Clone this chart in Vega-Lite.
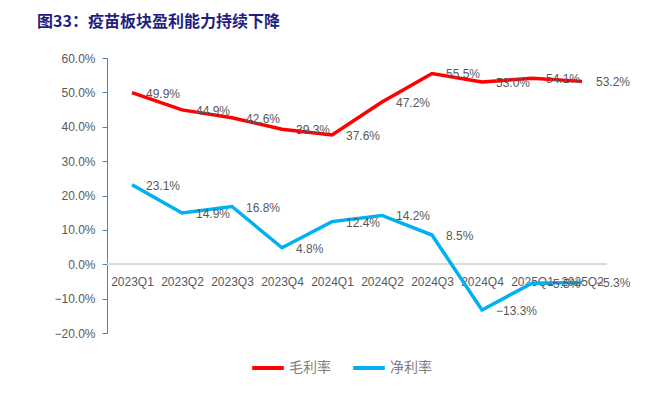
{
  "$schema": "https://vega.github.io/schema/vega-lite/v6.json",
  "autosize": "none",
  "width": 500,
  "height": 275,
  "padding": {"left": 107, "top": 58, "right": 44, "bottom": 69},
  "background": "white",
  "title": {
    "text": "图33：疫苗板块盈利能力持续下降",
    "anchor": "start",
    "frame": "group",
    "dx": -70,
    "offset": 22,
    "font": "Noto Sans CJK SC",
    "fontSize": 16,
    "fontWeight": "bold",
    "color": "#1F1F80"
  },
  "config": {
    "view": {"stroke": null},
    "font": "Liberation Sans"
  },
  "data": {
    "values": [
      {"q": "2023Q1", "series": "毛利率", "value": 0.499},
      {"q": "2023Q2", "series": "毛利率", "value": 0.449},
      {"q": "2023Q3", "series": "毛利率", "value": 0.426},
      {"q": "2023Q4", "series": "毛利率", "value": 0.393},
      {"q": "2024Q1", "series": "毛利率", "value": 0.376},
      {"q": "2024Q2", "series": "毛利率", "value": 0.472},
      {"q": "2024Q3", "series": "毛利率", "value": 0.555},
      {"q": "2024Q4", "series": "毛利率", "value": 0.530},
      {"q": "2025Q1", "series": "毛利率", "value": 0.541},
      {"q": "2025Q2", "series": "毛利率", "value": 0.532},
      {"q": "2023Q1", "series": "净利率", "value": 0.231},
      {"q": "2023Q2", "series": "净利率", "value": 0.149},
      {"q": "2023Q3", "series": "净利率", "value": 0.168},
      {"q": "2023Q4", "series": "净利率", "value": 0.048},
      {"q": "2024Q1", "series": "净利率", "value": 0.124},
      {"q": "2024Q2", "series": "净利率", "value": 0.142},
      {"q": "2024Q3", "series": "净利率", "value": 0.085},
      {"q": "2024Q4", "series": "净利率", "value": -0.133},
      {"q": "2025Q1", "series": "净利率", "value": -0.055},
      {"q": "2025Q2", "series": "净利率", "value": -0.053}
    ]
  },
  "encoding": {
    "x": {
      "field": "q",
      "type": "ordinal",
      "sort": null,
      "title": null,
      "axis": {
        "labelAngle": 0,
        "offset": -69,
        "domain": false,
        "ticks": false,
        "labelColor": "#595959",
        "labelFontSize": 12,
        "labelPadding": 12,
        "labelFont": "Liberation Sans"
      }
    },
    "y": {
      "field": "value",
      "type": "quantitative",
      "title": null,
      "scale": {"domain": [-0.2, 0.6], "nice": false, "zero": false},
      "axis": {
        "values": [-0.2, -0.1, 0, 0.1, 0.2, 0.3, 0.4, 0.5, 0.6],
        "format": ".1%",
        "grid": false,
        "domainColor": "#4F81BD",
        "tickColor": "#4F81BD",
        "tickSize": 5,
        "labelColor": "#595959",
        "labelFontSize": 12,
        "labelPadding": 7,
        "labelFont": "Liberation Sans"
      }
    }
  },
  "layer": [
    {
      "mark": {"type": "rule", "color": "#D9D9D9", "strokeWidth": 1},
      "encoding": {"y": {"datum": 0}, "x": null}
    },
    {
      "mark": {"type": "line", "strokeWidth": 3.5},
      "encoding": {
        "color": {
          "field": "series",
          "type": "nominal",
          "scale": {"domain": ["毛利率", "净利率"], "range": ["#FF0000", "#00B0F0"]},
          "legend": {
            "orient": "none",
            "legendX": 143,
            "legendY": 292,
            "direction": "horizontal",
            "title": null,
            "symbolType": "stroke",
            "symbolStrokeWidth": 4,
            "symbolSize": 1000,
            "labelFont": "Noto Sans CJK SC",
            "labelFontSize": 14,
            "labelColor": "#808080",
            "labelOffset": 3,
            "columnPadding": 14
          }
        }
      }
    },
    {
      "mark": {"type": "text", "align": "left", "baseline": "middle", "dx": 14, "dy": 1, "color": "#595959", "fontSize": 12, "font": "Liberation Sans"},
      "encoding": {
        "text": {"field": "value", "type": "quantitative", "format": ".1%"}
      }
    }
  ]
}
